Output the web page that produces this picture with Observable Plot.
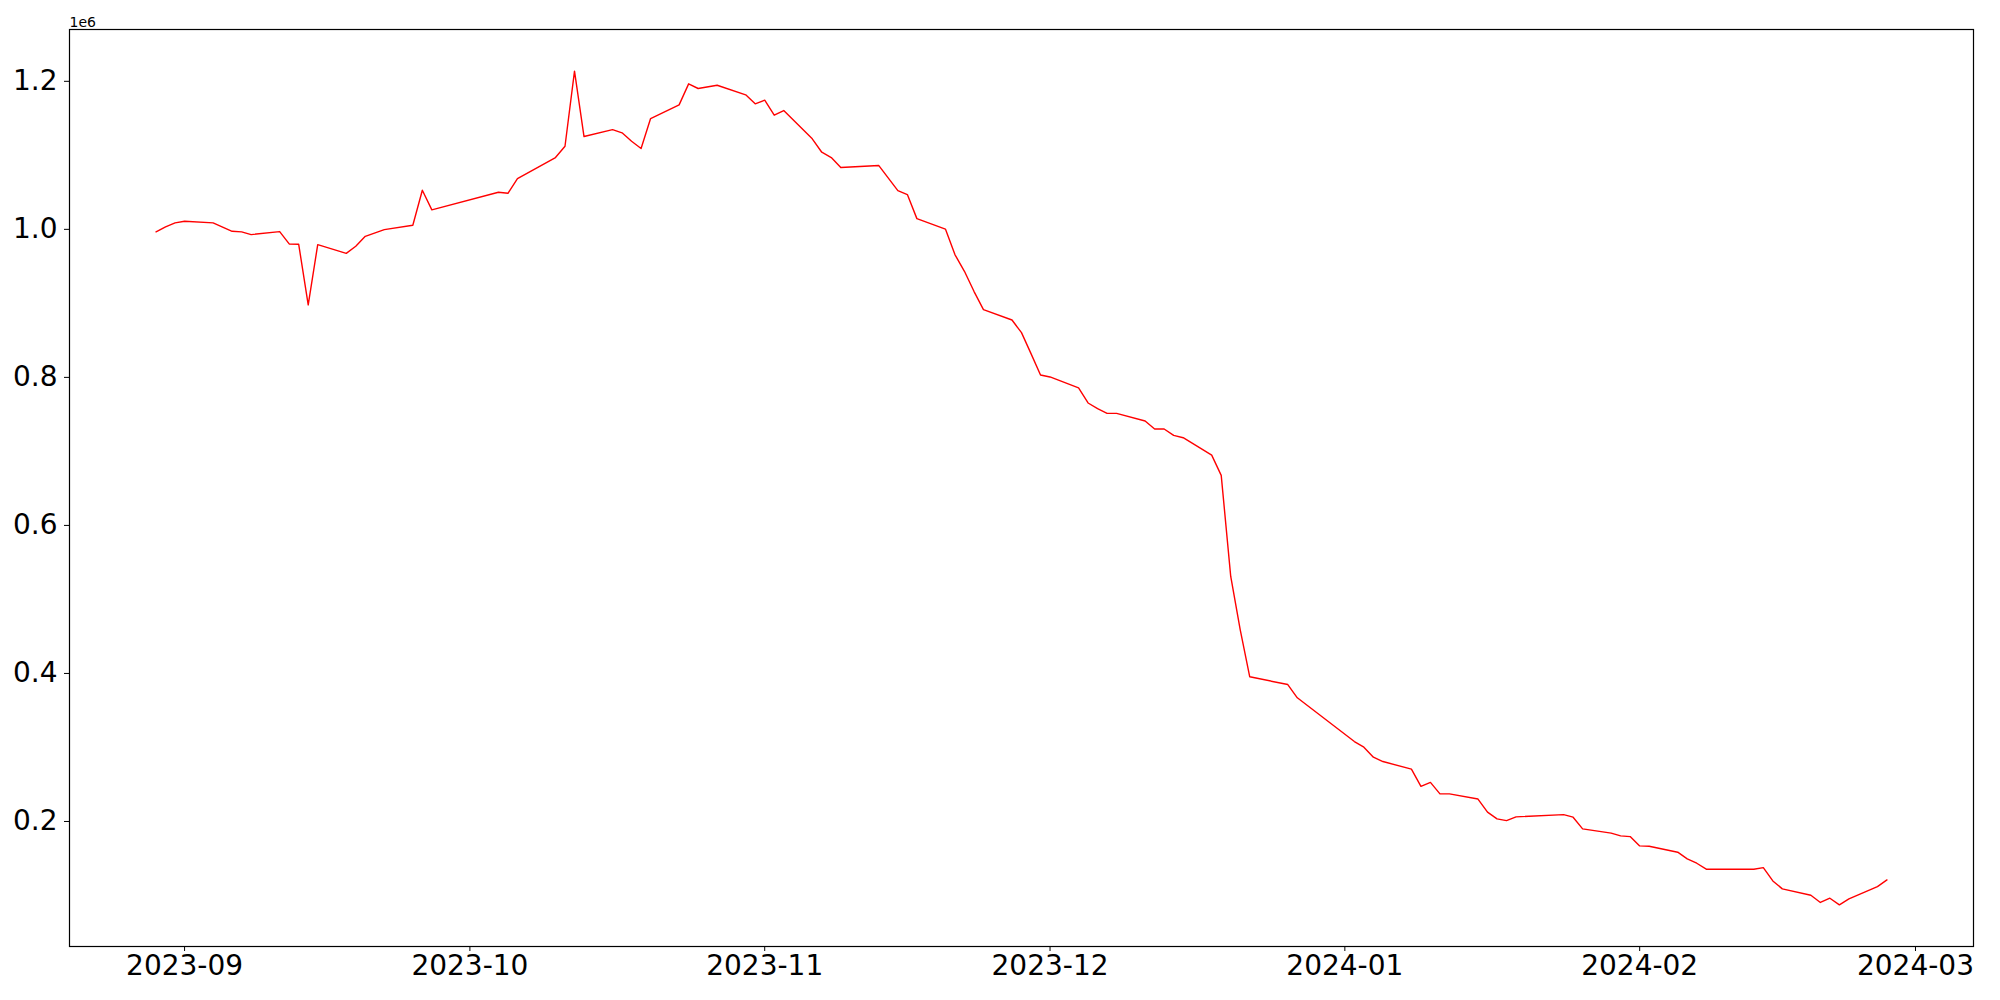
<!DOCTYPE html>
<html>
<head>
<meta charset="utf-8">
<script src="https://cdn.jsdelivr.net/npm/d3@7"></script>
<script src="https://cdn.jsdelivr.net/npm/@observablehq/plot@0.6"></script>
<style>
  html, body { margin: 0; padding: 0; background: #fff; }
  svg { display: block; }
</style>
</head>
<body>
<div id="chart"></div>
<script>
const dates = [
  "2023-08-29","2023-08-30","2023-08-31","2023-09-01","2023-09-04","2023-09-06","2023-09-07","2023-09-08",
  "2023-09-11","2023-09-12","2023-09-13","2023-09-14","2023-09-15","2023-09-18","2023-09-19","2023-09-20",
  "2023-09-22","2023-09-25","2023-09-26","2023-09-27","2023-10-04","2023-10-05","2023-10-06","2023-10-10",
  "2023-10-11","2023-10-12","2023-10-13","2023-10-16","2023-10-17","2023-10-18","2023-10-19","2023-10-20",
  "2023-10-23","2023-10-24","2023-10-25","2023-10-27","2023-10-30","2023-10-31","2023-11-01","2023-11-02",
  "2023-11-03","2023-11-06","2023-11-07","2023-11-08","2023-11-09","2023-11-13","2023-11-15","2023-11-16",
  "2023-11-17","2023-11-20","2023-11-21","2023-11-22","2023-11-23","2023-11-24","2023-11-27","2023-11-28",
  "2023-11-29","2023-11-30","2023-12-01","2023-12-04","2023-12-05","2023-12-06","2023-12-07","2023-12-08",
  "2023-12-11","2023-12-12","2023-12-13","2023-12-14","2023-12-15","2023-12-18","2023-12-19","2023-12-20",
  "2023-12-21","2023-12-22","2023-12-26","2023-12-27","2024-01-02","2024-01-03","2024-01-04","2024-01-05",
  "2024-01-08","2024-01-09","2024-01-10","2024-01-11","2024-01-12","2024-01-15","2024-01-16","2024-01-17",
  "2024-01-18","2024-01-19","2024-01-24","2024-01-25","2024-01-26","2024-01-29","2024-01-30","2024-01-31",
  "2024-02-01","2024-02-02","2024-02-05","2024-02-06","2024-02-07","2024-02-08","2024-02-13","2024-02-14",
  "2024-02-15","2024-02-16","2024-02-19","2024-02-20","2024-02-21","2024-02-22","2024-02-23","2024-02-26",
  "2024-02-27"
];
const values = [
  996600, 1003300, 1008700, 1010900, 1008700, 997400, 996600, 992900,
  997000, 980300, 979800, 897900, 979400, 967600, 977100, 990600,
  999700, 1005500, 1052800, 1026300, 1050100, 1048700, 1068600, 1097000,
  1112300, 1213700, 1125400, 1134800, 1130400, 1119000, 1109200, 1149700,
  1168200, 1196600, 1190300, 1194700, 1181800, 1169600, 1174500, 1154200,
  1160500, 1122300, 1104200, 1097000, 1083500, 1086200, 1052400, 1047000,
  1014500, 1000400, 965900, 943300, 916300, 891500, 877500, 860500,
  832100, 803300, 800600, 785700, 765400, 757700, 751400, 751400,
  741100, 730300, 730300, 721600, 718500, 695000, 667600, 531000,
  459000, 395500, 385000, 367100, 308000, 300400, 286900, 281000,
  270700, 247400, 252800, 237300, 237300, 230300, 212600, 203500,
  201200, 206200, 209300, 205800, 190000, 184200, 180500, 179600,
  167000, 166600, 158500, 149400, 143600, 135500, 135500, 137700,
  119700, 108900, 100400, 90600, 96300, 87400, 95400, 112000,
  121100
];
const yTicks = [200000, 400000, 600000, 800000, 1000000, 1200000];
const xTicks = ["2023-09-01","2023-10-01","2023-11-01","2023-12-01","2024-01-01","2024-02-01","2024-03-01"];
const exponentLabel = ["1e6"];

const data = dates.map((d, i) => ({date: new Date(d + "T00:00:00Z"), value: values[i]}));
const [x0, x1] = d3.extent(data, d => d.date);
const padX = (x1 - x0) * 0.05;
const [y0, y1] = d3.extent(values);
const padY = (y1 - y0) * 0.05;

const chart = Plot.plot({
  width: 2000,
  height: 1000,
  marginLeft: 69,
  marginRight: 27,
  marginTop: 29,
  marginBottom: 54,
  style: {fontFamily: "DejaVu Sans", fontSize: "28px", color: "black", background: "white"},
  x: {type: "utc", domain: [new Date(+x0 - padX), new Date(+x1 + padX)]},
  y: {domain: [y0 - padY, y1 + padY]},
  marks: [
    Plot.axisX({
      ticks: xTicks.map(d => new Date(d + "T00:00:00Z")),
      tickFormat: d3.utcFormat("%Y-%m"),
      tickSize: 5, tickPadding: 4, label: null, stroke: "black", strokeWidth: 1
    }),
    Plot.axisY({
      ticks: yTicks,
      tickFormat: d => (d / 1e6).toFixed(1),
      tickSize: 5, tickPadding: 7, label: null, stroke: "black", strokeWidth: 1
    }),
    Plot.lineY(data, {x: "date", y: "value", stroke: "red", strokeWidth: 1.4}),
    Plot.frame({stroke: "black", strokeWidth: 1.2}),
    Plot.text(exponentLabel, {
      frameAnchor: "top-left", text: d => d, textAnchor: "start", lineAnchor: "bottom",
      dy: -3, fontSize: 14, fill: "black"
    })
  ]
});
document.getElementById("chart").appendChild(chart);
</script>
</body>
</html>
